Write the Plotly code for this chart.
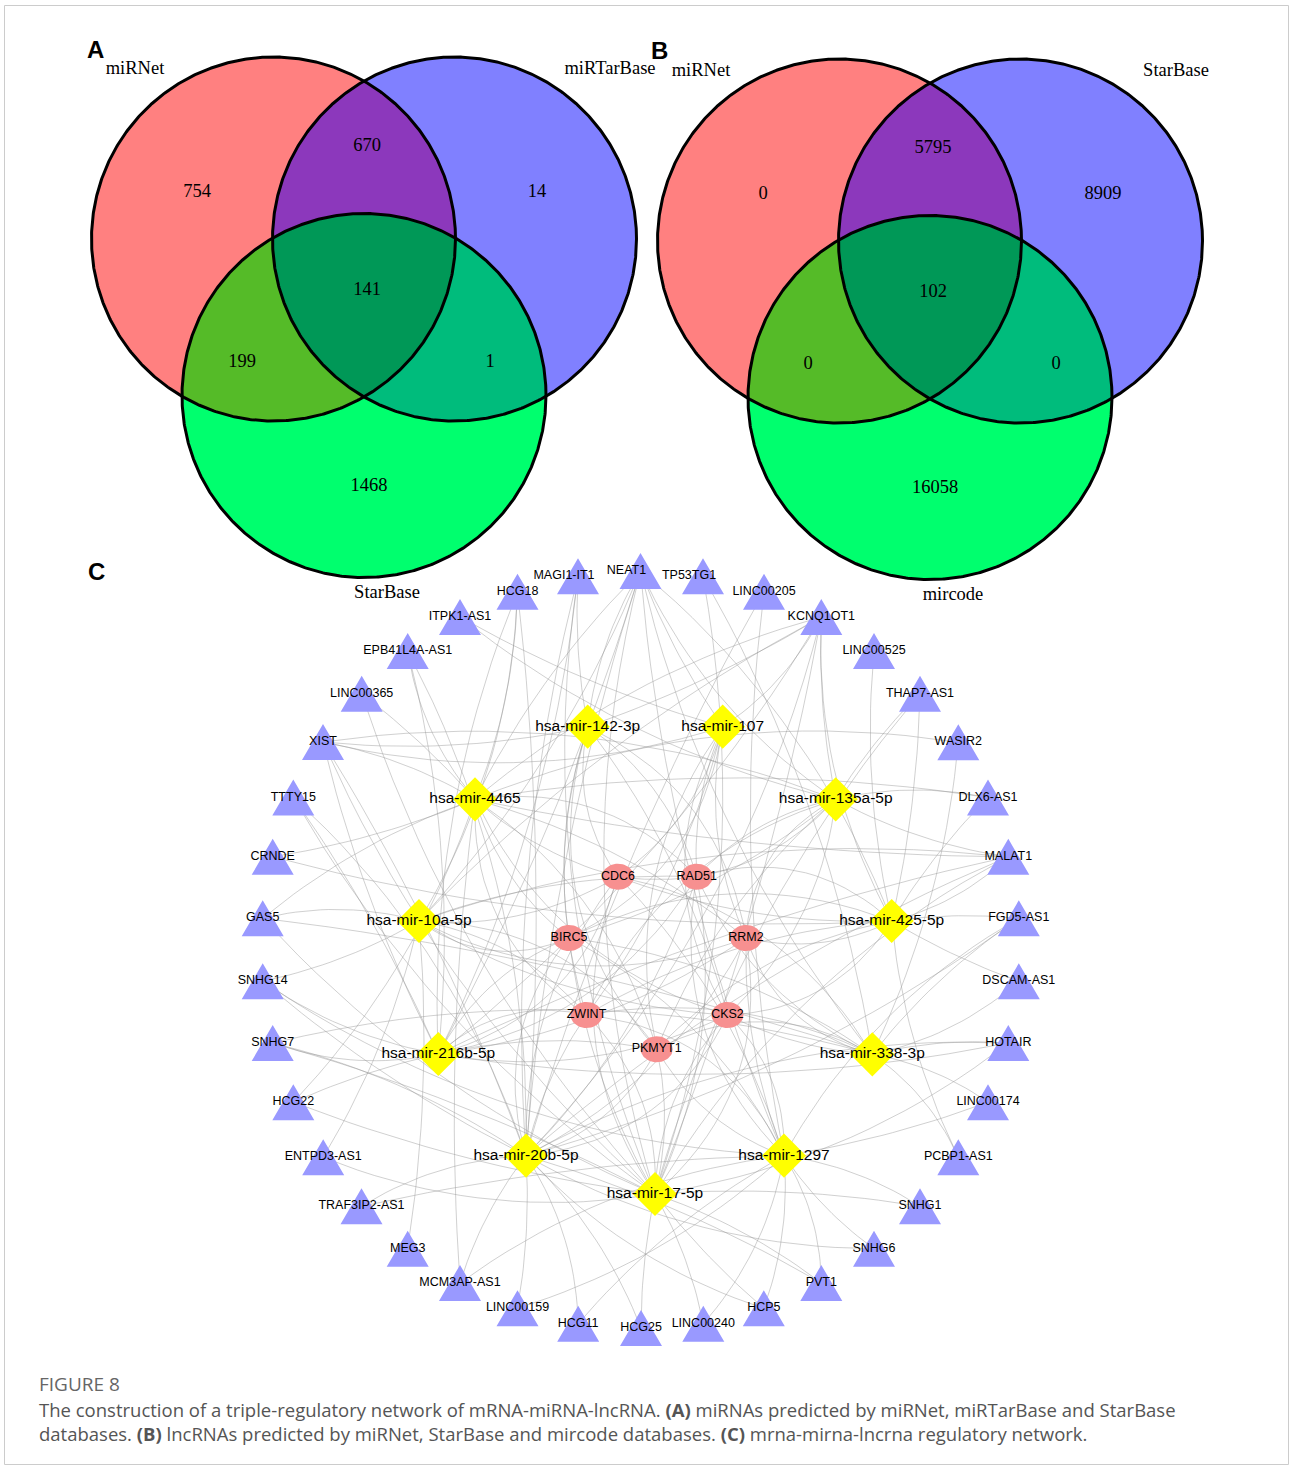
import numpy as np
import plotly.graph_objects as go

W, H = 1290, 1466

# ---------------------------------------------------------------- data
venn_regions = ["100", "010", "001", "110", "101", "011", "111"]
venn_a_sets = ["miRNet", "miRTarBase", "StarBase"]
venn_a_counts = [754, 14, 1468, 670, 199, 1, 141]
venn_b_sets = ["miRNet", "StarBase", "mircode"]
venn_b_counts = [0, 8909, 16058, 5795, 0, 0, 102]

mrnas = ["CDC6", "RAD51", "BIRC5", "RRM2", "ZWINT", "CKS2", "PKMYT1"]
mirnas = ["hsa-mir-142-3p", "hsa-mir-107", "hsa-mir-4465", "hsa-mir-135a-5p",
          "hsa-mir-10a-5p", "hsa-mir-425-5p", "hsa-mir-216b-5p", "hsa-mir-338-3p",
          "hsa-mir-20b-5p", "hsa-mir-1297", "hsa-mir-17-5p"]
lncrnas = ["NEAT1", "TP53TG1", "LINC00205", "KCNQ1OT1", "LINC00525", "THAP7-AS1",
           "WASIR2", "DLX6-AS1", "MALAT1", "FGD5-AS1", "DSCAM-AS1", "HOTAIR",
           "LINC00174", "PCBP1-AS1", "SNHG1", "SNHG6", "PVT1", "HCP5", "LINC00240",
           "HCG25", "HCG11", "LINC00159", "MCM3AP-AS1", "MEG3", "TRAF3IP2-AS1",
           "ENTPD3-AS1", "HCG22", "SNHG7", "SNHG14", "GAS5", "CRNDE", "TTTY15",
           "XIST", "LINC00365", "EPB41L4A-AS1", "ITPK1-AS1", "HCG18", "MAGI1-IT1"]

mirna_mrna_edges = {
    "hsa-mir-142-3p": ["CDC6", "RAD51", "BIRC5", "RRM2", "ZWINT", "CKS2", "PKMYT1"],
    "hsa-mir-107": ["CDC6", "RAD51", "BIRC5", "RRM2", "ZWINT", "CKS2", "PKMYT1"],
    "hsa-mir-4465": ["CDC6", "RAD51", "BIRC5", "RRM2", "ZWINT", "CKS2", "PKMYT1"],
    "hsa-mir-135a-5p": ["CDC6", "RAD51", "BIRC5", "RRM2", "ZWINT", "CKS2", "PKMYT1"],
    "hsa-mir-10a-5p": ["CDC6", "RAD51", "BIRC5", "RRM2", "ZWINT", "CKS2", "PKMYT1"],
    "hsa-mir-425-5p": ["CDC6", "RAD51", "BIRC5", "RRM2", "ZWINT", "CKS2", "PKMYT1"],
    "hsa-mir-216b-5p": ["CDC6", "RAD51", "BIRC5", "RRM2", "ZWINT", "CKS2", "PKMYT1"],
    "hsa-mir-338-3p": ["CDC6", "RAD51", "BIRC5", "RRM2", "ZWINT", "CKS2", "PKMYT1"],
    "hsa-mir-20b-5p": ["CDC6", "RAD51", "BIRC5", "RRM2", "ZWINT", "CKS2", "PKMYT1"],
    "hsa-mir-1297": ["CDC6", "RAD51", "BIRC5", "RRM2", "ZWINT", "CKS2", "PKMYT1"],
    "hsa-mir-17-5p": ["CDC6", "RAD51", "BIRC5", "RRM2", "ZWINT", "CKS2", "PKMYT1"],
}

lnc_mirna_edges = {
    "NEAT1": ["hsa-mir-142-3p", "hsa-mir-107", "hsa-mir-4465", "hsa-mir-135a-5p", "hsa-mir-10a-5p",
              "hsa-mir-425-5p", "hsa-mir-216b-5p", "hsa-mir-338-3p", "hsa-mir-20b-5p",
              "hsa-mir-1297", "hsa-mir-17-5p"],
    "TP53TG1": ["hsa-mir-338-3p", "hsa-mir-17-5p"],
    "LINC00205": ["hsa-mir-20b-5p", "hsa-mir-1297"],
    "KCNQ1OT1": ["hsa-mir-107", "hsa-mir-142-3p", "hsa-mir-4465", "hsa-mir-135a-5p", "hsa-mir-10a-5p",
                 "hsa-mir-425-5p", "hsa-mir-216b-5p", "hsa-mir-20b-5p", "hsa-mir-17-5p"],
    "LINC00525": ["hsa-mir-425-5p"],
    "THAP7-AS1": ["hsa-mir-425-5p", "hsa-mir-17-5p", "hsa-mir-135a-5p"],
    "WASIR2": ["hsa-mir-4465", "hsa-mir-338-3p"],
    "DLX6-AS1": ["hsa-mir-135a-5p", "hsa-mir-425-5p", "hsa-mir-4465"],
    "MALAT1": ["hsa-mir-135a-5p", "hsa-mir-425-5p", "hsa-mir-4465", "hsa-mir-10a-5p",
               "hsa-mir-216b-5p", "hsa-mir-20b-5p", "hsa-mir-17-5p"],
    "FGD5-AS1": ["hsa-mir-425-5p", "hsa-mir-338-3p", "hsa-mir-1297", "hsa-mir-20b-5p"],
    "DSCAM-AS1": ["hsa-mir-338-3p", "hsa-mir-425-5p"],
    "HOTAIR": ["hsa-mir-338-3p", "hsa-mir-20b-5p", "hsa-mir-216b-5p", "hsa-mir-17-5p"],
    "LINC00174": ["hsa-mir-1297", "hsa-mir-338-3p"],
    "PCBP1-AS1": ["hsa-mir-338-3p", "hsa-mir-425-5p"],
    "SNHG1": ["hsa-mir-1297", "hsa-mir-17-5p"],
    "SNHG6": ["hsa-mir-1297", "hsa-mir-20b-5p"],
    "PVT1": ["hsa-mir-20b-5p", "hsa-mir-17-5p", "hsa-mir-1297"],
    "HCP5": ["hsa-mir-20b-5p", "hsa-mir-17-5p", "hsa-mir-1297"],
    "LINC00240": ["hsa-mir-17-5p", "hsa-mir-1297"],
    "HCG25": ["hsa-mir-17-5p", "hsa-mir-20b-5p"],
    "HCG11": ["hsa-mir-20b-5p", "hsa-mir-1297"],
    "LINC00159": ["hsa-mir-1297", "hsa-mir-20b-5p"],
    "MCM3AP-AS1": ["hsa-mir-20b-5p", "hsa-mir-1297", "hsa-mir-4465"],
    "MEG3": ["hsa-mir-10a-5p"],
    "TRAF3IP2-AS1": ["hsa-mir-20b-5p", "hsa-mir-1297"],
    "ENTPD3-AS1": ["hsa-mir-10a-5p", "hsa-mir-17-5p"],
    "HCG22": ["hsa-mir-216b-5p", "hsa-mir-4465", "hsa-mir-17-5p"],
    "SNHG7": ["hsa-mir-216b-5p", "hsa-mir-20b-5p", "hsa-mir-338-3p", "hsa-mir-17-5p"],
    "SNHG14": ["hsa-mir-216b-5p", "hsa-mir-20b-5p", "hsa-mir-10a-5p", "hsa-mir-1297"],
    "GAS5": ["hsa-mir-4465", "hsa-mir-10a-5p", "hsa-mir-338-3p", "hsa-mir-17-5p"],
    "CRNDE": ["hsa-mir-4465", "hsa-mir-425-5p"],
    "TTTY15": ["hsa-mir-20b-5p", "hsa-mir-216b-5p", "hsa-mir-17-5p"],
    "XIST": ["hsa-mir-142-3p", "hsa-mir-107", "hsa-mir-4465", "hsa-mir-135a-5p",
             "hsa-mir-20b-5p", "hsa-mir-17-5p", "hsa-mir-216b-5p"],
    "LINC00365": ["hsa-mir-4465", "hsa-mir-17-5p"],
    "EPB41L4A-AS1": ["hsa-mir-4465", "hsa-mir-216b-5p", "hsa-mir-20b-5p"],
    "ITPK1-AS1": ["hsa-mir-135a-5p", "hsa-mir-107"],
    "HCG18": ["hsa-mir-4465", "hsa-mir-10a-5p", "hsa-mir-20b-5p", "hsa-mir-216b-5p"],
    "MAGI1-IT1": ["hsa-mir-142-3p", "hsa-mir-20b-5p", "hsa-mir-17-5p", "hsa-mir-216b-5p"],
}

caption_title = "FIGURE 8"
caption_line1 = ("The construction of a triple-regulatory network of mRNA-miRNA-lncRNA. "
                 "<b>(A)</b> miRNAs predicted by miRNet, miRTarBase and StarBase")
caption_line2 = ("databases. <b>(B)</b> lncRNAs predicted by miRNet, StarBase and mircode databases. "
                 "<b>(C)</b> mrna-mirna-lncrna regulatory network.")

# ---------------------------------------------------------------- layout (positions / styles)
SERIF = "Liberation Serif, Times New Roman, serif"
SANS = "Liberation Sans, Arial, sans-serif"

R = 182.0
DX, DY = 90.5, 156.5
venn_geo = [dict(mx=364.0, my=239.0, letter="A", lx=95, ly=49,
                 sets=venn_a_sets, counts=venn_a_counts),
            dict(mx=930.0, my=241.0, letter="B", lx=659, ly=50,
                 sets=venn_b_sets, counts=venn_b_counts)]
region_off = {"100": (-167, -47), "010": (173, -47), "001": (5, 247),
              "110": (3, -93), "101": (-122, 123), "011": (126, 123), "111": (3, 51)}
set_label_off = [(-229, -170), (246, -170), (23, 354)]
region_colors = {"1": "#FF8080", "2": "#8080FF", "12": "#8C38BC", "3": "#00FF6E",
                 "13": "#55BB28", "23": "#00BC7C", "123": "#009857"}

pos = {
    "NEAT1": (640.5, 571), "TP53TG1": (703, 576.3), "LINC00205": (764, 591.7),
    "KCNQ1OT1": (821.3, 617), "LINC00525": (874, 651), "THAP7-AS1": (920, 693.7),
    "WASIR2": (958.3, 742.3), "DLX6-AS1": (988, 797.5), "MALAT1": (1008.3, 856.8),
    "FGD5-AS1": (1018.8, 918.3), "DSCAM-AS1": (1018.8, 981.3), "HOTAIR": (1008.3, 1043),
    "LINC00174": (988, 1102.2), "PCBP1-AS1": (958.3, 1157.3), "SNHG1": (920, 1206.3),
    "SNHG6": (874, 1248.7), "PVT1": (821.3, 1283), "HCP5": (763.8, 1308.3),
    "LINC00240": (703.3, 1323.7), "HCG25": (641, 1328), "HCG11": (578.2, 1323.7),
    "LINC00159": (517.5, 1308.3), "MCM3AP-AS1": (460, 1283), "MEG3": (407.7, 1248.7),
    "TRAF3IP2-AS1": (361.5, 1206.3), "ENTPD3-AS1": (323.2, 1157.3), "HCG22": (293.3, 1102.2),
    "SNHG7": (272.7, 1043), "SNHG14": (262.7, 981.3), "GAS5": (262.7, 918.3),
    "CRNDE": (272.7, 856.8), "TTTY15": (293.3, 797.5), "XIST": (323, 742),
    "LINC00365": (361.7, 693.7), "EPB41L4A-AS1": (407.7, 651), "ITPK1-AS1": (460, 617),
    "HCG18": (517.5, 591.7), "MAGI1-IT1": (578, 576.3),
    "hsa-mir-142-3p": (587.7, 726.7), "hsa-mir-107": (722.7, 726.7),
    "hsa-mir-4465": (475, 799.3), "hsa-mir-135a-5p": (835.7, 799.3),
    "hsa-mir-10a-5p": (419, 921), "hsa-mir-425-5p": (891.7, 921),
    "hsa-mir-216b-5p": (438.3, 1054), "hsa-mir-338-3p": (872.3, 1054.3),
    "hsa-mir-20b-5p": (526, 1155.7), "hsa-mir-1297": (784, 1155.7),
    "hsa-mir-17-5p": (655, 1194),
    "CDC6": (618, 876.7), "RAD51": (696.7, 876.7), "BIRC5": (569, 938),
    "RRM2": (746, 938), "ZWINT": (586.5, 1015), "CKS2": (727.5, 1015),
    "PKMYT1": (656.7, 1049.3),
}
label_dx = {"NEAT1": -14, "TP53TG1": -14, "MAGI1-IT1": -14}

fig = go.Figure()


def circle_pts(cx, cy, r, n=720):
    t = np.linspace(0, 2 * np.pi, n + 1)
    return cx + r * np.cos(t), cy + r * np.sin(t)


def disc_intersection(centers, n=2880):
    pts = []
    t = np.linspace(0, 2 * np.pi, n, endpoint=False)
    for i, (cx, cy) in enumerate(centers):
        x = cx + R * np.cos(t)
        y = cy + R * np.sin(t)
        m = np.ones(n, bool)
        for j, (ox, oy) in enumerate(centers):
            if j != i:
                m &= (x - ox) ** 2 + (y - oy) ** 2 <= R * R + 1e-6
        pts.append(np.c_[x[m], y[m]])
    P = np.vstack(pts)
    c = P.mean(0)
    P = P[np.argsort(np.arctan2(P[:, 1] - c[1], P[:, 0] - c[0]))]
    P = np.vstack([P, P[:1]])
    return P[:, 0], P[:, 1]


# ---------------------------------------------------------------- Venn diagrams
for g in venn_geo:
    mx, my = g["mx"], g["my"]
    C = {"1": (mx - DX, my), "2": (mx + DX, my), "3": (mx, my + DY)}
    for key in ["1", "2", "12", "3", "13", "23", "123"]:
        cs = [C[k] for k in key]
        if len(cs) == 1:
            x, y = circle_pts(cs[0][0], cs[0][1], R)
        else:
            x, y = disc_intersection(cs)
        fig.add_trace(go.Scatter(x=x, y=y, mode="lines", fill="toself",
                                 fillcolor=region_colors[key], line=dict(width=0),
                                 hoverinfo="skip"))
    for k in ["1", "2", "3"]:
        x, y = circle_pts(C[k][0], C[k][1], R)
        fig.add_trace(go.Scatter(x=x, y=y, mode="lines",
                                 line=dict(color="black", width=3), hoverinfo="skip"))
    fig.add_trace(go.Scatter(
        x=[mx + region_off[r][0] for r in venn_regions],
        y=[my + region_off[r][1] for r in venn_regions],
        text=[str(v) for v in g["counts"]], mode="text", textposition="middle center",
        textfont=dict(family=SERIF, size=18.5, color="black"), hoverinfo="skip"))
    fig.add_trace(go.Scatter(
        x=[mx + o[0] for o in set_label_off], y=[my + o[1] for o in set_label_off],
        text=g["sets"], mode="text", textposition="middle center",
        textfont=dict(family=SERIF, size=18.5, color="black"), hoverinfo="skip"))
    fig.add_annotation(x=g["lx"], y=g["ly"], text=f"<b>{g['letter']}</b>", showarrow=False,
                       font=dict(family=SANS, size=24, color="black"),
                       xanchor="center", yanchor="middle")

fig.add_annotation(x=96, y=571, text="<b>C</b>", showarrow=False,
                   font=dict(family=SANS, size=24, color="black"),
                   xanchor="center", yanchor="middle")

# ---------------------------------------------------------------- network edges
ex, ey = [], []


def add_curve(p, q, bend):
    p = np.array(p, float)
    q = np.array(q, float)
    d = q - p
    L = np.hypot(*d)
    nrm = np.array([-d[1], d[0]]) / (L + 1e-9)
    ctrl = (p + q) / 2 + nrm * bend * L
    t = np.linspace(0, 1, 20)[:, None]
    pts = (1 - t) ** 2 * p + 2 * (1 - t) * t * ctrl + t ** 2 * q
    ex.extend(pts[:, 0].tolist() + [None])
    ey.extend(pts[:, 1].tolist() + [None])


bends = [0.22, -0.18, 0.12, -0.26, 0.16, -0.1, 0.28]
for i, mir in enumerate(mirnas):
    for j, m in enumerate(mirna_mrna_edges[mir]):
        add_curve(pos[mir], pos[m], bends[(i + j) % len(bends)])
for i, lnc in enumerate(lncrnas):
    for j, mir in enumerate(lnc_mirna_edges[lnc]):
        add_curve(pos[lnc], pos[mir], 0.5 * bends[(i + 2 * j) % len(bends)])

fig.add_trace(go.Scatter(x=ex, y=ey, mode="lines",
                         line=dict(color="rgba(150,150,150,0.5)", width=0.9),
                         hoverinfo="skip"))

# ---------------------------------------------------------------- nodes
tx, ty = [], []
for n in lncrnas:
    cx, cy = pos[n]
    tx += [cx - 21, cx + 21, cx, cx - 21, None]
    ty += [cy + 18, cy + 18, cy - 18, cy + 18, None]
fig.add_trace(go.Scatter(x=tx, y=ty, mode="lines", fill="toself", fillcolor="#9999FF",
                         line=dict(width=0, color="#9999FF"), hoverinfo="skip"))

elx, ely = [], []
tt = np.linspace(0, 2 * np.pi, 60)
for n in mrnas:
    cx, cy = pos[n]
    elx += (cx + 16 * np.cos(tt)).tolist() + [None]
    ely += (cy + 13 * np.sin(tt)).tolist() + [None]
fig.add_trace(go.Scatter(x=elx, y=ely, mode="lines", fill="toself", fillcolor="#F79090",
                         line=dict(width=0, color="#F79090"), hoverinfo="skip"))

fig.add_trace(go.Scatter(x=[pos[n][0] for n in mirnas], y=[pos[n][1] for n in mirnas],
                         mode="markers", marker=dict(symbol="diamond", size=34, color="#FFFF00",
                                                     line=dict(width=0)), hoverinfo="skip"))

# labels
fig.add_trace(go.Scatter(x=[pos[n][0] + label_dx.get(n, 0) for n in lncrnas],
                         y=[pos[n][1] for n in lncrnas], text=lncrnas, mode="text",
                         textposition="middle center",
                         textfont=dict(family=SANS, size=12.5, color="black"), hoverinfo="skip"))
fig.add_trace(go.Scatter(x=[pos[n][0] for n in mrnas], y=[pos[n][1] for n in mrnas],
                         text=mrnas, mode="text", textposition="middle center",
                         textfont=dict(family=SANS, size=12.5, color="black"), hoverinfo="skip"))
fig.add_trace(go.Scatter(x=[pos[n][0] for n in mirnas], y=[pos[n][1] for n in mirnas],
                         text=mirnas, mode="text", textposition="middle center",
                         textfont=dict(family=SANS, size=15.5, color="black"), hoverinfo="skip"))

# ---------------------------------------------------------------- caption
fig.add_annotation(x=37, y=1384, text=caption_title, showarrow=False, xanchor="left",
                   yanchor="middle", font=dict(family="Open Sans", size=19, color="#666666"))
fig.add_annotation(x=37, y=1409, text=caption_line1, showarrow=False, xanchor="left",
                   yanchor="middle", font=dict(family="Open Sans", size=18.5, color="#555555"))
fig.add_annotation(x=37, y=1433, text=caption_line2, showarrow=False, xanchor="left",
                   yanchor="middle", font=dict(family="Open Sans", size=18.5, color="#555555"))

fig.add_shape(type="rect", x0=4.5, y0=5.5, x1=1288.5, y1=1464.5,
              line=dict(color="#CCCCCC", width=1), fillcolor="rgba(0,0,0,0)", layer="below")

fig.update_layout(
    width=W, height=H, margin=dict(l=0, r=0, t=0, b=0),
    paper_bgcolor="white", plot_bgcolor="white", showlegend=False, hovermode=False,
    xaxis=dict(range=[0, W], visible=False, fixedrange=True),
    yaxis=dict(range=[H, 0], visible=False, fixedrange=True),
)

fig.write_html("out.html", config={"displayModeBar": False},
               post_script="document.body.style.margin='0px';document.body.style.overflow='hidden';")
